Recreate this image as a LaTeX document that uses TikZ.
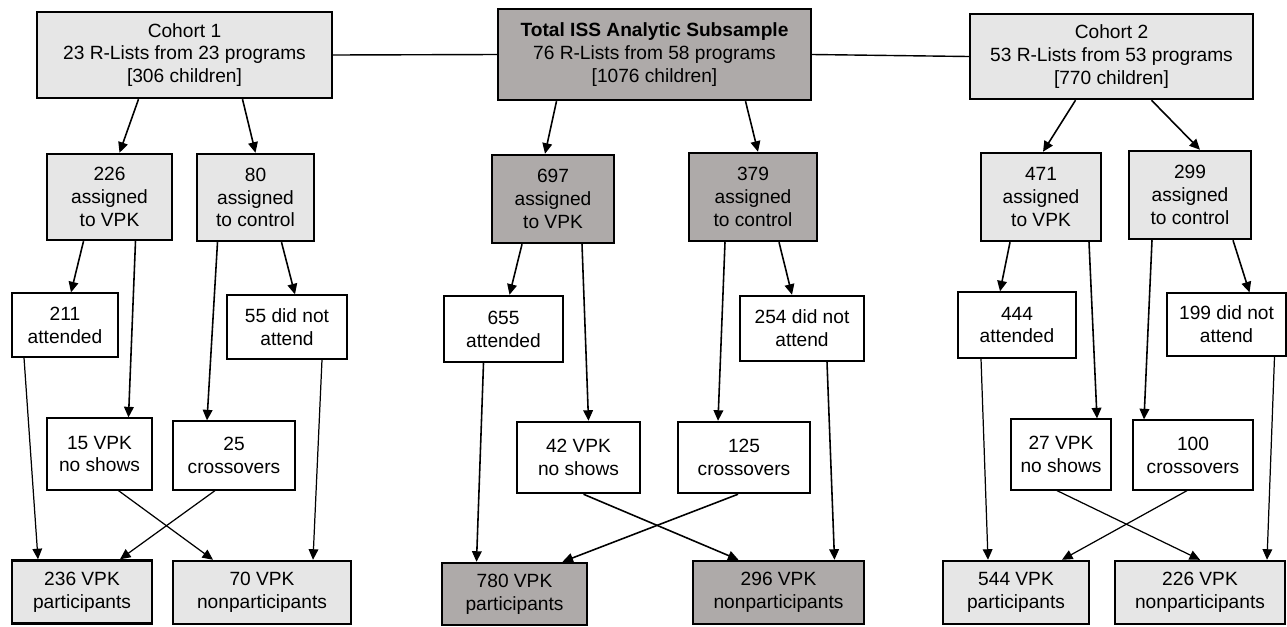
\documentclass[tikz,border=0pt]{standalone}
\usepackage{fontspec}
\setmainfont{Liberation Sans}
\usetikzlibrary{arrows.meta,calc}

\definecolor{lightbox}{RGB}{230,230,230}
\definecolor{darkbox}{RGB}{174,170,169}

\tikzset{
  box/.style={draw, align=center, inner sep=0pt, text=black},
  cohortbox/.style={box, line width=1.4pt, fill=lightbox},
  totalbox/.style={box, line width=1.4pt, fill=darkbox},
  plainbox/.style={box, line width=0.7pt, fill=white},
  boldbox/.style={box, line width=1.4pt, fill=white},
  sz/.style 2 args={minimum width=#1*0.02cm, minimum height=#2*0.02cm},
  arr/.style={line width=0.9pt, -{Triangle[length=6pt,width=5.5pt]}},
  arrthin/.style={line width=0.7pt, -{Triangle[length=6pt,width=5.5pt]}},
  link/.style={line width=0.8pt}
}

\begin{document}
\begin{tikzpicture}[x=0.02cm, y=-0.02cm, font=\fontsize{10.9}{13}\selectfont]
\useasboundingbox (0,0) rectangle (1287,626);

% cohort 1
\node[cohortbox, sz={295}{86}] (coh1) at (184.5,55) {Cohort 1\\23 R-Lists from 23 programs\\{[306 children]}};
\node[cohortbox, sz={125}{86}] (vpk1) at (109.5,197) {226\\assigned\\to VPK};
\node[cohortbox, sz={117}{87}] (ctl1) at (255.5,197.5) {80\\assigned\\to control};
\node[plainbox, sz={106}{64}] (att1) at (65,325) {211\\attended};
\node[plainbox, sz={120}{64}] (dna1) at (287,327) {55 did not\\attend};
\node[plainbox, sz={105}{72}] (nos1) at (99.5,454) {15 VPK\\no shows};
\node[plainbox, sz={122}{69}] (crs1) at (234,455.5) {25\\crossovers};
\node[cohortbox, sz={140}{63}] (par1) at (82,592) {236 VPK\\participants};
\node[cohortbox, sz={178}{63}] (non1) at (262,592.5) {70 VPK\\nonparticipants};

% total
\node[totalbox, sz={313}{91}] (tot) at (654.5,54.5) {\textbf{Total ISS Analytic Subsample}\\76 R-Lists from 58 programs\\{[1076 children]}};
\node[totalbox, sz={122}{88}] (vpk0) at (553,199) {697\\assigned\\to VPK};
\node[totalbox, sz={128}{88}] (ctl0) at (753,197) {379\\assigned\\to control};
\node[boldbox, sz={119}{66}] (att0) at (503.5,329) {655\\attended};
\node[boldbox, sz={124}{65}] (dna0) at (802,328.5) {254 did not\\attend};
\node[boldbox, sz={123}{71}] (nos0) at (578.5,457.5) {42 VPK\\no shows};
\node[boldbox, sz={132}{71}] (crs0) at (744,457.5) {125\\crossovers};
\node[totalbox, sz={145}{62}] (par0) at (514.5,594) {780 VPK\\participants};
\node[totalbox, sz={171}{63}] (non0) at (778.5,592.5) {296 VPK\\nonparticipants};

% cohort 2
\node[cohortbox, sz={283}{85}] (coh2) at (1111.5,56.5) {Cohort 2\\53 R-Lists from 53 programs\\{[770 children]}};
\node[cohortbox, sz={120}{88}] (vpk2) at (1041,197) {471\\assigned\\to VPK};
\node[cohortbox, sz={122}{88}] (ctl2) at (1190,195) {299\\assigned\\to control};
\node[plainbox, sz={118}{66}] (att2) at (1017,325) {444\\attended};
\node[plainbox, sz={119}{63}] (dna2) at (1226.5,324.5) {199 did not\\attend};
\node[plainbox, sz={100}{71}] (nos2) at (1061,454.5) {27 VPK\\no shows};
\node[plainbox, sz={120}{70}] (crs2) at (1193,455) {100\\crossovers};
\node[cohortbox, sz={146}{63}] (par2) at (1016,592.5) {544 VPK\\participants};
\node[cohortbox, sz={170}{63}] (non2) at (1200,592.5) {226 VPK\\nonparticipants};

% links between the three trees
\draw[link] (coh1.east) -- (tot.west);
\draw[link] (tot.east) -- (coh2.west);

% cohort 1 flows
\draw[arr] ($(coh1.south)+(-46,0)$) -- ($(vpk1.north)+(10,0)$);
\draw[arr] ($(coh1.south)+(58,0)$) -- ($(ctl1.north)+(0,0)$);
\draw[arr] ($(vpk1.south)+(-26,0)$) -- ($(att1.north)+(6,0)$);
\draw[arr] ($(vpk1.south)+(26,0)$) -- ($(nos1.north)+(29,0)$);
\draw[arr] ($(ctl1.south)+(-38,0)$) -- ($(crs1.north)+(-27,0)$);
\draw[arr] ($(ctl1.south)+(26,0)$) -- ($(dna1.north)+(8,0)$);
\draw[arrthin] ($(att1.south)+(-41,0)$) -- ($(par1.north)+(-44,0)$);
\draw[arrthin] ($(nos1.south)+(19,0)$) -- ($(non1.north)+(-49,0)$);
\draw[arrthin] ($(crs1.south)+(-19,0)$) -- ($(par1.north)+(38,0)$);
\draw[arrthin] ($(dna1.south)+(35,0)$) -- ($(non1.north)+(51,0)$);

% total flows
\draw[arr] ($(tot.south)+(-98,0)$) -- ($(vpk0.north)+(-8,0)$);
\draw[arr] ($(tot.south)+(91,0)$) -- ($(ctl0.north)+(5,0)$);
\draw[arr] ($(vpk0.south)+(-31,0)$) -- ($(att0.north)+(6,0)$);
\draw[arr] ($(vpk0.south)+(29,0)$) -- ($(nos0.north)+(10,0)$);
\draw[arr] ($(ctl0.south)+(-28,0)$) -- ($(crs0.north)+(-26,0)$);
\draw[arr] ($(ctl0.south)+(26,0)$) -- ($(dna0.north)+(-10,0)$);
\draw[arr] ($(att0.south)+(-20,0)$) -- ($(par0.north)+(-38,0)$);
\draw[arr] ($(nos0.south)+(5,0)$) -- ($(non0.north)+(-40,0)$);
\draw[arr] ($(crs0.south)+(-6,0)$) -- ($(par0.north)+(48,0)$);
\draw[arr] ($(dna0.south)+(25,0)$) -- ($(non0.north)+(56,0)$);

% cohort 2 flows
\draw[arr] ($(coh2.south)+(-36,0)$) -- ($(vpk2.north)+(2,0)$);
\draw[arr] ($(coh2.south)+(40,0)$) -- ($(ctl2.north)+(10,0)$);
\draw[arr] ($(vpk2.south)+(-31,0)$) -- ($(att2.north)+(-17,0)$);
\draw[arr] ($(vpk2.south)+(48,0)$) -- ($(nos2.north)+(36,0)$);
\draw[arr] ($(ctl2.south)+(-38,0)$) -- ($(crs2.north)+(-49,0)$);
\draw[arr] ($(ctl2.south)+(43,0)$) -- ($(dna2.north)+(23,0)$);
\draw[arrthin] ($(att2.south)+(-36,0)$) -- ($(par2.north)+(-28,0)$);
\draw[arrthin] ($(nos2.south)+(-4,0)$) -- ($(non2.north)+(0,0)$);
\draw[arrthin] ($(crs2.south)+(-6,0)$) -- ($(par2.north)+(46,0)$);
\draw[arrthin] ($(dna2.south)+(48,0)$) -- ($(non2.north)+(67,0)$);
\end{tikzpicture}
\end{document}
